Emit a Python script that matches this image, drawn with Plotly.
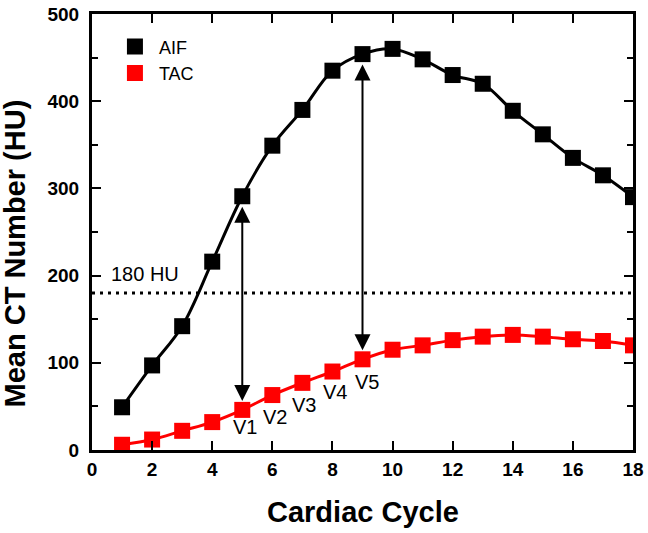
import plotly.graph_objects as go

cycles = list(range(1, 19))
aif = [49, 97, 142, 216, 291, 349, 390, 435, 454, 460, 448, 430, 420, 389, 362, 335, 315, 290]
tac = [6, 12, 22, 32, 46, 63, 77, 90, 104, 115, 120, 126, 130, 132, 130, 127, 125, 120]
threshold = 180
threshold_label = "180 HU"
arrow_cycles = [5, 9]
v_labels = ["V1", "V2", "V3", "V4", "V5"]
v_x = [5.1, 6.1, 7.05, 8.1, 9.15]
v_y = [26, 38, 52, 66, 78]
x_ticks = list(range(0, 19, 2))
y_ticks = [0, 100, 200, 300, 400, 500]

fig = go.Figure()
fig.add_trace(go.Scatter(x=cycles, y=aif, mode="lines+markers", line=dict(color="black", width=3, shape="spline"),
                         marker=dict(symbol="square", size=16, color="black"), showlegend=False))
fig.add_trace(go.Scatter(x=cycles, y=tac, mode="lines+markers", line=dict(color="#ff0000", width=3, shape="spline"),
                         marker=dict(symbol="square", size=16, color="#ff0000"), showlegend=False))
fig.add_trace(go.Scatter(x=[None], y=[None], mode="markers", name="AIF",
                         marker=dict(symbol="square", size=16, color="black")))
fig.add_trace(go.Scatter(x=[None], y=[None], mode="markers", name="TAC",
                         marker=dict(symbol="square", size=16, color="#ff0000")))

fig.add_shape(type="line", xref="x", yref="y", x0=0, x1=18, y0=threshold, y1=threshold,
              line=dict(color="black", width=3, dash="3px,5px"))
fig.add_annotation(x=0.55, y=202, xref="x", yref="y", text=threshold_label, showarrow=False,
                   xanchor="left", yanchor="middle", font=dict(size=20, color="black", family="Arial"))

for c in arrow_cycles:
    i = cycles.index(c)
    fig.add_annotation(x=c, y=tac[i], ax=c, ay=aif[i], xref="x", yref="y", axref="x", ayref="y",
                       text="", showarrow=True, arrowhead=2, arrowside="end+start", arrowsize=1.6,
                       arrowwidth=2, arrowcolor="black", standoff=9, startstandoff=9)

for lbl, xx, yy in zip(v_labels, v_x, v_y):
    fig.add_annotation(x=xx, y=yy, xref="x", yref="y", text=lbl, showarrow=False,
                       font=dict(size=20, color="black", family="Arial"))

fig.add_annotation(x=-0.143, y=0.45, xref="paper", yref="paper", text="<b>Mean CT Number (HU)</b>",
                   textangle=-90, showarrow=False, xanchor="center", yanchor="middle",
                   font=dict(size=29, family="Arial", color="black"))
fig.add_annotation(x=0.5, y=-0.142, xref="paper", yref="paper", text="<b>Cardiac Cycle</b>",
                   showarrow=False, xanchor="center", yanchor="middle",
                   font=dict(size=29, family="Arial", color="black"))

axis_common = dict(showline=True, linecolor="black", linewidth=3, mirror="ticks", ticks="inside",
                   ticklen=9, tickwidth=2, tickcolor="black", showgrid=False, zeroline=False,
                   automargin=False, ticklabeloverflow="allow",
                   tickfont=dict(size=19, family="Arial", color="black"))
fig.update_xaxes(range=[0, 18], tickvals=x_ticks, ticktext=["<b>%d</b>" % v for v in x_ticks], **axis_common)
fig.update_yaxes(range=[0, 500], tickvals=y_ticks, ticktext=["<b>%d</b>" % v for v in y_ticks],
                 ticklabelstandoff=6,
                 minor=dict(dtick=50, tick0=0, ticks="inside", ticklen=6, tickwidth=2, tickcolor="black"),
                 **axis_common)
fig.update_layout(width=648, height=533, margin=dict(l=92, r=15, t=14, b=83),
                  plot_bgcolor="white", paper_bgcolor="white",
                  font=dict(family="Arial", color="black"),
                  legend=dict(x=0.035, y=0.967, xanchor="left", yanchor="top", bgcolor="rgba(0,0,0,0)",
                              itemwidth=38, font=dict(size=18, family="Arial", color="black")))
# remove the default 8px page margin so the figure fills the window exactly
fig.write_html("out.html", config={"displayModeBar": False},
               post_script="document.body.style.margin='0';document.body.style.overflow='hidden';")
